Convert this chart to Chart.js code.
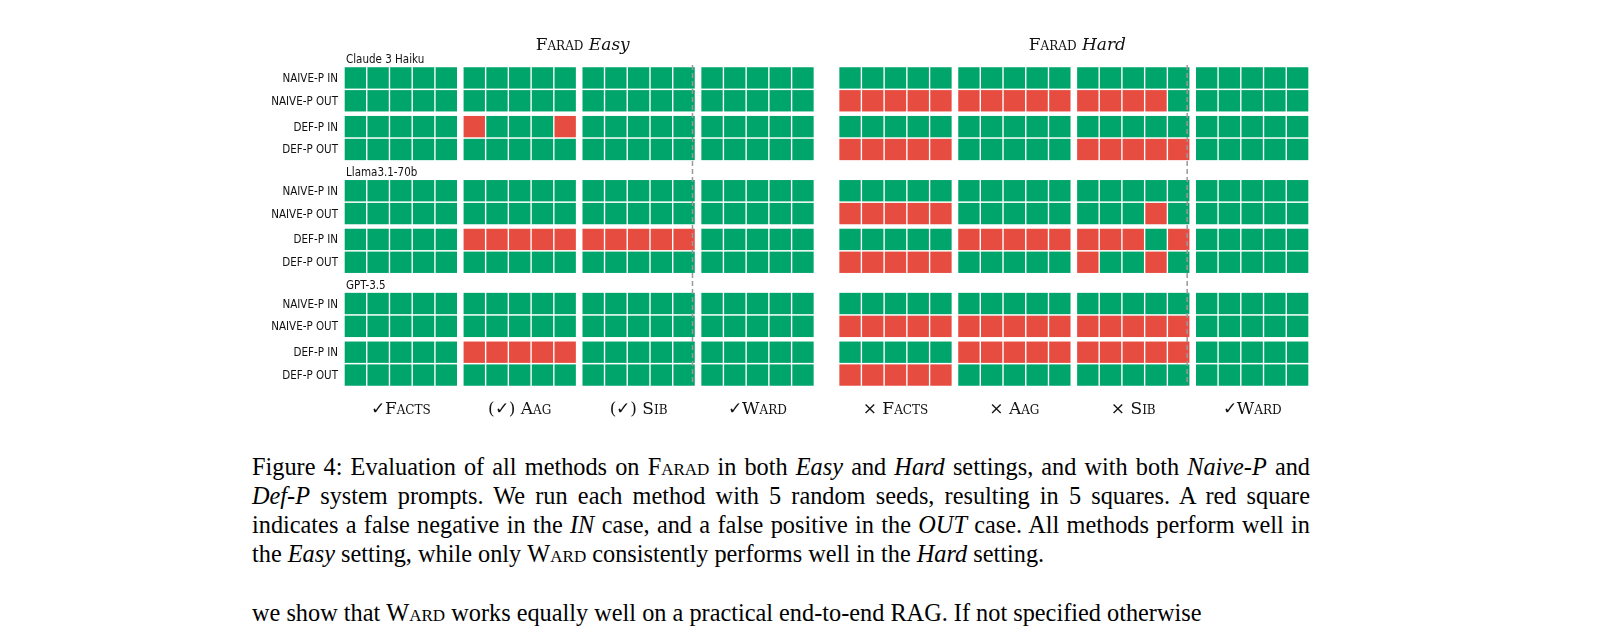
<!DOCTYPE html>
<html><head><meta charset="utf-8">
<script src="https://cdn.jsdelivr.net/npm/chart.js"></script>
<style>
body{margin:0;background:#fff;width:1618px;height:636px;overflow:hidden;position:relative}
#wrap{position:absolute;left:0;top:0;width:1618px;height:430px}
.t{position:absolute;white-space:nowrap}
.rl{font-family:"DejaVu Sans Condensed","DejaVu Sans",sans-serif;font-size:11.5px;color:#111;transform:translate(-100%,-50%)}
.ml{font-family:"DejaVu Sans Condensed","DejaVu Sans",sans-serif;font-size:11.5px;color:#111;transform:translateY(-50%)}
.sc{font-family:"DejaVu Serif",serif;font-variant:small-caps;font-size:17px;color:#111;transform:translate(-50%,-50%)}
.cap{font-family:"Liberation Serif","Times New Roman",serif;font-size:24.3px;color:#000;left:252px;line-height:29px;width:1058px;text-align:justify;white-space:normal}
</style></head><body>
<div id="wrap"><canvas id="c"></canvas></div>
<div id="labels"></div>
<div class="t cap" style="top:452px">Figure 4: Evaluation of all methods on <span style="font-variant:small-caps">Farad</span> in both <i>Easy</i> and <i>Hard</i> settings, and with both <i>Naive-P</i> and <i>Def-P</i> system prompts. We run each method with 5 random seeds, resulting in 5 squares. A red square indicates a false negative in the <i>IN</i> case, and a false positive in the <i>OUT</i> case. All methods perform well in the <i>Easy</i> setting, while only <span style="font-variant:small-caps">Ward</span> consistently performs well in the <i>Hard</i> setting.</div>
<div class="t cap" style="top:598px;text-align:left;white-space:nowrap">we show that <span style="font-variant:small-caps">Ward</span> works equally well on a practical end-to-end RAG. If not specified otherwise</div>
<script>
const models = ["Claude 3 Haiku","Llama3.1-70b","GPT-3.5"];
const rowLabels = ["NAIVE-P IN","NAIVE-P OUT","DEF-P IN","DEF-P OUT"];
const methods = ["✓Facts","(✓) Aag","(✓) Sib","✓Ward","× Facts","× Aag","× Sib","✓Ward"];
const settings = ["Easy","Hard"];
// 1 = correct (green), 0 = error (red); groups: Easy F,A,S,W | Hard F,A,S,W
const claude = [
 ["11111","11111","11111","11111","11111","11111","11111","11111"],
 ["11111","11111","11111","11111","00000","00000","00001","11111"],
 ["11111","01110","11111","11111","11111","11111","11111","11111"],
 ["11111","11111","11111","11111","00000","11111","00000","11111"]];
const llama = [
 ["11111","11111","11111","11111","11111","11111","11111","11111"],
 ["11111","11111","11111","11111","00000","11111","11101","11111"],
 ["11111","00000","00000","11111","11111","00000","00010","11111"],
 ["11111","11111","11111","11111","00000","11111","01101","11111"]];
const gpt = [
 ["11111","11111","11111","11111","11111","11111","11111","11111"],
 ["11111","11111","11111","11111","00000","00000","00000","11111"],
 ["11111","00000","11111","11111","11111","00000","00000","11111"],
 ["11111","11111","11111","11111","00000","11111","11111","11111"]];
const results = [claude, llama, gpt];

// layout (in scale units)
const GROUP = 5.23, HARD = 21.76, XMAX = 42.45;
const ROWOFF = [0, 23, 49, 72], MODELOFF = 113.5, YMAX = 321;
const colX = (g, i) => (g >= 4 ? HARD : 0) + (g % 4) * GROUP + i + 0.5;
const rowY = (m, r) => m * MODELOFF + ROWOFF[r] + 11;

const green = [], red = [];
results.forEach((rows, m) => rows.forEach((groups, r) => groups.forEach((s, g) =>
  [...s].forEach((ch, i) => (ch === "1" ? green : red).push({x: colX(g, i), y: rowY(m, r)})))));
const dashX = [15.5, HARD + 15.5].map(v => v - 0.17);
const dashSets = dashX.map(x => ({type:'scatter', data:[{x, y:-2},{x, y:YMAX}], showLine:true, borderColor:'#999', borderWidth:1.5, borderDash:[5,3], pointRadius:0, order:0}));

const cell = (data, color) => ({data, backgroundColor:color, borderColor:'#fff', borderWidth:0, pointStyle:'rect', pointRadius:15.1, pointHoverRadius:15.1, order:10});
const chart = new Chart(document.getElementById('c'), {
  type:'scatter',
  data:{datasets:[cell(green,'#00A56C'), cell(red,'#E74C40'), ...dashSets]},
  options:{responsive:true, maintainAspectRatio:false, animation:false,
    layout:{padding:{left:344, top:65, right:309, bottom:44}},
    plugins:{legend:{display:false}, tooltip:{enabled:false}},
    events:[],
    scales:{x:{type:'linear', min:0, max:XMAX, display:false},
            y:{type:'linear', min:-2, max:YMAX, reverse:true, display:false}}}
});

const L = document.getElementById('labels');
const add = (cls, txt, x, y) => { const d = document.createElement('div'); d.className = 't ' + cls; d.innerHTML = txt; d.style.left = x + 'px'; d.style.top = y + 'px'; L.appendChild(d); };
const sx = chart.scales.x, sy = chart.scales.y;
models.forEach((m, mi) => {
  add('ml', m, sx.getPixelForValue(0) + 2, sy.getPixelForValue(mi * MODELOFF) - 8);
  rowLabels.forEach((r, ri) => add('rl', r, sx.getPixelForValue(0) - 6, sy.getPixelForValue(rowY(mi, ri))));
});
methods.forEach((t, g) => add('sc', t, sx.getPixelForValue(colX(g, 2)), sy.getPixelForValue(YMAX) + 22));
settings.forEach((s, k) => add('sc', 'Farad <i style="font-variant:normal">' + s + '</i>', sx.getPixelForValue((k ? HARD : 0) + 10.5), 44));
</script></body></html>
